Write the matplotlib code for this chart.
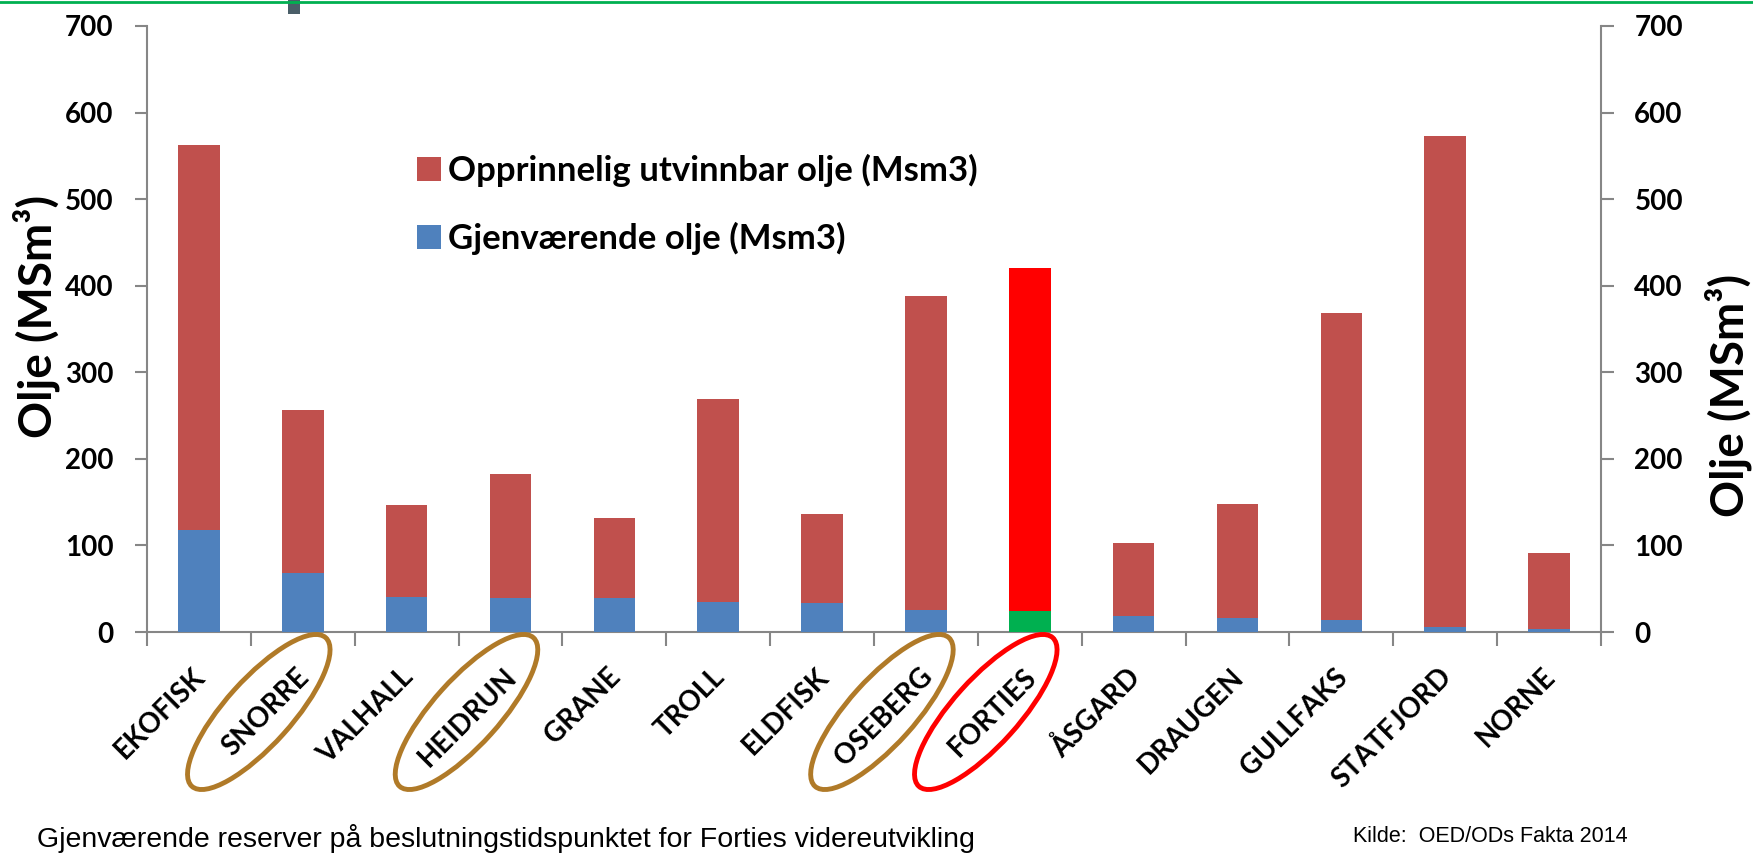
import numpy as np
import matplotlib.pyplot as plt
import matplotlib.transforms as transforms
from matplotlib.patches import Ellipse, Rectangle
from matplotlib.lines import Line2D

# data
fields = ['EKOFISK', 'SNORRE', 'VALHALL', 'HEIDRUN', 'GRANE', 'TROLL', 'ELDFISK',
          'OSEBERG', 'FORTIES', 'ÅSGARD', 'DRAUGEN', 'GULLFAKS', 'STATFJORD', 'NORNE']
original = [562, 257, 147, 183, 132, 269, 136, 388, 420, 103, 148, 369, 573, 91]
remaining = [118, 68, 40, 39, 39, 35, 34, 25, 24, 18, 16, 14, 6, 3]
circled = ['SNORRE', 'HEIDRUN', 'OSEBERG', 'FORTIES']
highlight = 'FORTIES'

RED = '#C0504D'
BLUE = '#4F81BD'
GRAY = '#868686'

W, H = 1753, 855
fig = plt.figure(figsize=(W / 100, H / 100), dpi=100)
ax = fig.add_axes([147 / W, 1 - 632 / H, (1601 - 147) / W, (632 - 26) / H])

x = np.arange(len(fields))
red_cols = ['#FF0000' if f == highlight else RED for f in fields]
blue_cols = ['#00B050' if f == highlight else BLUE for f in fields]
b1 = ax.bar(x, original, width=0.4, color=red_cols, label='Opprinnelig utvinnbar olje (Msm3)', zorder=2)
b2 = ax.bar(x, remaining, width=0.4, color=blue_cols, label='Gjenværende olje (Msm3)', zorder=3)

ax.set_xlim(-0.5, len(fields) - 0.5)
ax.set_ylim(0, 700)
ax.set_yticks(range(0, 701, 100))
ax.set_xticks(x)
ax.set_xticks(np.arange(-0.5, len(fields), 1.0), minor=True)
ax.set_xticklabels(fields, rotation=45, ha='right', va='top', rotation_mode='anchor',
                   fontsize=20, fontweight='bold', family='Lato')
ax.tick_params(axis='x', which='major', length=0, pad=22)
ax.tick_params(axis='x', which='minor', length=10, width=1.5, color=GRAY)
ax.tick_params(axis='y', length=9, width=1.5, color=GRAY, pad=15)
shift = transforms.ScaledTranslation(-0.07, -0.01, fig.dpi_scale_trans)
for lab in ax.get_xticklabels():
    lab.set_transform(lab.get_transform() + shift)
for lab in ax.get_yticklabels():
    lab.set_fontsize(20)
    lab.set_fontweight('bold')
    lab.set_family('Lato')

ax.spines['top'].set_visible(False)
ax.spines['right'].set_visible(False)
for s in ['left', 'bottom']:
    ax.spines[s].set_color(GRAY)
    ax.spines[s].set_linewidth(1.5)

# secondary axis on the right
ax2 = ax.twinx()
ax2.set_ylim(0, 700)
ax2.set_yticks(range(0, 701, 100))
ax2.tick_params(axis='y', length=9, width=1.5, color=GRAY, pad=15)
for lab in ax2.get_yticklabels():
    lab.set_fontsize(20)
    lab.set_fontweight('bold')
    lab.set_family('Lato')
for s in ['top', 'left', 'bottom']:
    ax2.spines[s].set_visible(False)
ax2.spines['right'].set_color(GRAY)
ax2.spines['right'].set_linewidth(1.5)

fig.text(36 / W, 1 - 316 / H, 'Olje (MSm³)', rotation=90, ha='center', va='center',
         fontsize=33, fontweight='bold', family='Lato')
fig.text(1728 / W, 1 - 395 / H, 'Olje (MSm³)', rotation=90, ha='center', va='center',
         fontsize=33, fontweight='bold', family='Lato')

# legend
ax.legend(handles=[b1, b2], loc='upper left', bbox_to_anchor=(417 / W, 1 - 154 / H),
          bbox_transform=fig.transFigure, frameon=False,
          prop={'family': 'Lato', 'weight': 'bold', 'size': 25},
          handlelength=0.7, handleheight=0.7, handletextpad=0.2, labelspacing=1.0,
          borderpad=0, borderaxespad=0)

# ellipses around circled labels
for f in circled:
    i = fields.index(f)
    tr = fig.dpi_scale_trans + transforms.ScaledTranslation(i, 0, ax.transData)
    col = '#FF0000' if f == highlight else '#B07A28'
    e = Ellipse((-0.44, -0.80), width=2.0, height=0.66, angle=48, fill=False,
                edgecolor=col, linewidth=3.5, transform=tr, clip_on=False)
    fig.add_artist(e)

# top decoration line
fig.add_artist(Line2D([0, 1], [1 - 2 / H, 1 - 2 / H], color='#00B050', linewidth=2,
                      transform=fig.transFigure))
fig.add_artist(Rectangle((288 / W, 1 - 14 / H), 12 / W, 14 / H, facecolor='#4A5E68',
                         edgecolor='none', transform=fig.transFigure))

fig.text(37 / W, 1 - 838 / H, 'Gjenværende reserver på beslutningstidspunktet for Forties videreutvikling',
         ha='left', va='center', fontsize=20.5, family='Liberation Sans')
fig.text(1353 / W, 1 - 836 / H, 'Kilde:  OED/ODs Fakta 2014', ha='left', va='center',
         fontsize=15.5, family='Liberation Sans')

fig.savefig('out.png', dpi=100)
